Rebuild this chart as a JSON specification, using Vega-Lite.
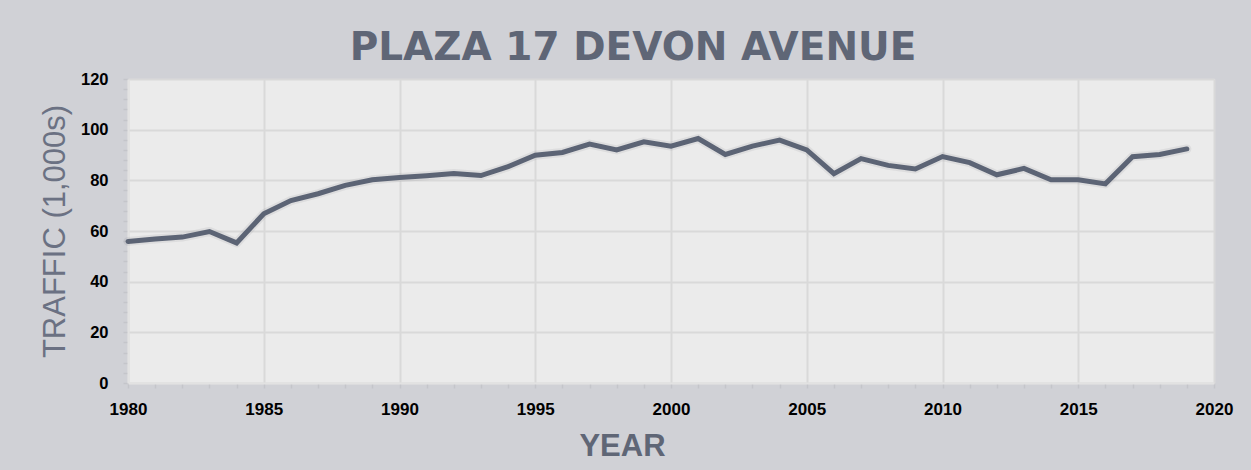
{
  "$schema": "https://vega.github.io/schema/vega-lite/v6.json",
  "width": 1086,
  "height": 304,
  "autosize": {"type": "none"},
  "padding": {"left": 128, "top": 79, "right": 37, "bottom": 87},
  "background": "#d0d1d6",
  "title": {
    "text": "PLAZA 17 DEVON AVENUE",
    "font": "DejaVu Sans",
    "fontSize": 39,
    "fontWeight": "bold",
    "color": "#5f6676",
    "anchor": "middle",
    "frame": "group",
    "dx": -38,
    "dy": 46,
    "baseline": "alphabetic",
    "offset": 18
  },
  "data": {
    "values": [
      {"year": 1980, "traffic": 55.9},
      {"year": 1981, "traffic": 56.8},
      {"year": 1982, "traffic": 57.6},
      {"year": 1983, "traffic": 59.8},
      {"year": 1984, "traffic": 55.3},
      {"year": 1985, "traffic": 66.8},
      {"year": 1986, "traffic": 72.0},
      {"year": 1987, "traffic": 74.7},
      {"year": 1988, "traffic": 78.0},
      {"year": 1989, "traffic": 80.2},
      {"year": 1990, "traffic": 81.1},
      {"year": 1991, "traffic": 81.8},
      {"year": 1992, "traffic": 82.7},
      {"year": 1993, "traffic": 81.9},
      {"year": 1994, "traffic": 85.4},
      {"year": 1995, "traffic": 89.9},
      {"year": 1996, "traffic": 91.0},
      {"year": 1997, "traffic": 94.3},
      {"year": 1998, "traffic": 92.0},
      {"year": 1999, "traffic": 95.2},
      {"year": 2000, "traffic": 93.5},
      {"year": 2001, "traffic": 96.5},
      {"year": 2002, "traffic": 90.2},
      {"year": 2003, "traffic": 93.5},
      {"year": 2004, "traffic": 95.9},
      {"year": 2005, "traffic": 92.0},
      {"year": 2006, "traffic": 82.6},
      {"year": 2007, "traffic": 88.6},
      {"year": 2008, "traffic": 85.9},
      {"year": 2009, "traffic": 84.5},
      {"year": 2010, "traffic": 89.4},
      {"year": 2011, "traffic": 87.0},
      {"year": 2012, "traffic": 82.2},
      {"year": 2013, "traffic": 84.7},
      {"year": 2014, "traffic": 80.2},
      {"year": 2015, "traffic": 80.2},
      {"year": 2016, "traffic": 78.6},
      {"year": 2017, "traffic": 89.3},
      {"year": 2018, "traffic": 90.2},
      {"year": 2019, "traffic": 92.4}
    ]
  },
  "encoding": {
    "x": {
      "field": "year",
      "type": "quantitative",
      "scale": {"domain": [1980, 2020], "nice": false, "zero": false},
      "axis": {
        "title": "YEAR",
        "values": [1980,1981,1982,1983,1984,1985,1986,1987,1988,1989,1990,1991,1992,1993,1994,1995,1996,1997,1998,1999,2000,2001,2002,2003,2004,2005,2006,2007,2008,2009,2010,2011,2012,2013,2014,2015,2016,2017,2018,2019,2020],
        "format": "d",
        "labelExpr": "datum.value % 5 === 0 ? datum.label : ''",
        "labelFont": "Liberation Sans",
        "labelFontSize": 17,
        "labelFontWeight": "bold",
        "labelColor": "#000000",
        "labelPadding": 13,
        "labelFlush": false,
        "labelOverlap": false,
        "tickSize": 5,
        "tickColor": "#c4c5ca",
        "tickWidth": 1.5,
        "gridColor": "#d9d9d9",
        "gridWidth": 2,
        "gridOpacity": {"condition": {"test": "datum.value % 5 !== 0", "value": 0}, "value": 1},
        "domain": true,
        "domainColor": "#e2e2e2",
        "domainWidth": 2,
        "titleFont": "Liberation Sans",
        "titleFontSize": 31,
        "titleFontWeight": "bold",
        "titleColor": "#5f6676",
        "titleX": 494,
        "titleY": 72,
        "titleBaseline": "alphabetic",
        "titleAnchor": "middle",
        "titleAlign": "center"
      }
    },
    "y": {
      "field": "traffic",
      "type": "quantitative",
      "scale": {"domain": [0, 120], "nice": false},
      "axis": {
        "title": "TRAFFIC (1,000s)",
        "values": [0,4,8,12,16,20,24,28,32,36,40,44,48,52,56,60,64,68,72,76,80,84,88,92,96,100,104,108,112,116,120],
        "labelExpr": "datum.value % 20 === 0 ? datum.label : ''",
        "labelFont": "Liberation Sans",
        "labelFontSize": 16.5,
        "labelFontWeight": "bold",
        "labelColor": "#000000",
        "labelPadding": 15,
        "labelFlush": false,
        "labelOverlap": false,
        "tickSize": 5,
        "tickColor": "#c4c5ca",
        "tickWidth": 1.5,
        "gridColor": "#d9d9d9",
        "gridWidth": 2,
        "gridOpacity": {"condition": {"test": "datum.value % 20 !== 0", "value": 0}, "value": 1},
        "domain": true,
        "domainColor": "#e2e2e2",
        "domainWidth": 2,
        "titleFont": "Liberation Sans",
        "titleFontSize": 31,
        "titleFontWeight": "normal",
        "titleColor": "#6b7183",
        "titlePadding": 9
      }
    }
  },
  "layer": [
    {
      "mark": {"type": "line", "color": "#3a3f4a", "strokeWidth": 9, "opacity": 0.08, "strokeJoin": "round", "strokeCap": "round"}
    },
    {
      "mark": {"type": "line", "color": "#5c6475", "strokeWidth": 5, "strokeJoin": "miter", "strokeCap": "round"}
    }
  ],
  "config": {
    "view": {"fill": "#ebebeb", "stroke": "#e2e2e2", "strokeWidth": 1}
  }
}
